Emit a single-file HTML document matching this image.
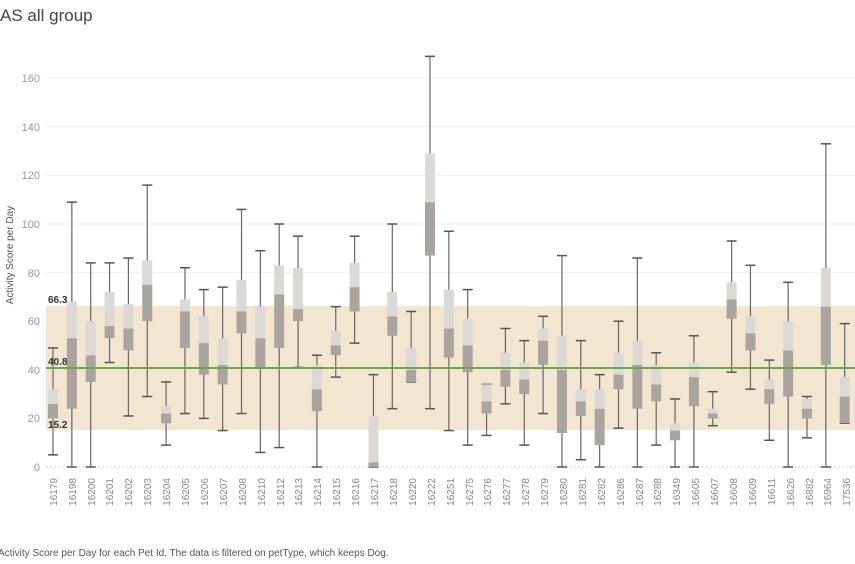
<!DOCTYPE html>
<html><head><meta charset="utf-8"><style>
body{margin:0;background:#fff;width:855px;height:559px;overflow:hidden;font-family:"Liberation Sans",sans-serif}
</style></head><body>
<svg id="s" width="855" height="559" xmlns="http://www.w3.org/2000/svg" font-family="Liberation Sans, sans-serif">
<text x="0" y="21" font-size="17" fill="#444">AS all group</text>
<g stroke="#f0f0f0" stroke-width="1">
<line x1="46" x2="855" y1="418.4" y2="418.4"/><line x1="46" x2="855" y1="369.8" y2="369.8"/>
<line x1="46" x2="855" y1="321.2" y2="321.2"/><line x1="46" x2="855" y1="272.6" y2="272.6"/>
<line x1="46" x2="855" y1="224" y2="224"/><line x1="46" x2="855" y1="175.4" y2="175.4"/>
<line x1="46" x2="855" y1="126.8" y2="126.8"/><line x1="46" x2="855" y1="78.2" y2="78.2"/>
</g>
<rect x="46" y="306" width="809" height="124" fill="#f2e6d0"/>
<g font-size="11" fill="#999" text-anchor="end">
<text x="40" y="471">0</text><text x="40" y="422">20</text><text x="40" y="374">40</text>
<text x="40" y="325">60</text><text x="40" y="277">80</text><text x="40" y="228">100</text>
<text x="40" y="179">120</text><text x="40" y="131">140</text><text x="40" y="82">160</text>
</g>
<text transform="translate(13,255) rotate(-90)" font-size="10" fill="#555" text-anchor="middle">Activity Score per Day</text>
<line x1="46" x2="855" y1="467" y2="467" stroke="#c8cde8" stroke-dasharray="2,2"/>
<g id="boxes"></g>
<line x1="46" x2="855" y1="368" y2="368" stroke="#6aa84f" stroke-width="2"/>
<g font-size="10" font-weight="bold" fill="#333">
<text x="48" y="303">66.3</text><text x="48" y="365">40.8</text><text x="48" y="428">15.2</text>
</g>
<g font-size="10" fill="#888" text-anchor="end" id="lbl">
<text transform="translate(57,478) rotate(-90)">16179</text>
<text transform="translate(76,478) rotate(-90)">16198</text>
<text transform="translate(95,478) rotate(-90)">16200</text>
<text transform="translate(113,478) rotate(-90)">16201</text>
<text transform="translate(132,478) rotate(-90)">16202</text>
<text transform="translate(151,478) rotate(-90)">16203</text>
<text transform="translate(170,478) rotate(-90)">16204</text>
<text transform="translate(189,478) rotate(-90)">16205</text>
<text transform="translate(208,478) rotate(-90)">16206</text>
<text transform="translate(227,478) rotate(-90)">16207</text>
<text transform="translate(246,478) rotate(-90)">16208</text>
<text transform="translate(265,478) rotate(-90)">16210</text>
<text transform="translate(284,478) rotate(-90)">16212</text>
<text transform="translate(302,478) rotate(-90)">16213</text>
<text transform="translate(321,478) rotate(-90)">16214</text>
<text transform="translate(340,478) rotate(-90)">16215</text>
<text transform="translate(359,478) rotate(-90)">16216</text>
<text transform="translate(378,478) rotate(-90)">16217</text>
<text transform="translate(397,478) rotate(-90)">16218</text>
<text transform="translate(416,478) rotate(-90)">16220</text>
<text transform="translate(435,478) rotate(-90)">16222</text>
<text transform="translate(454,478) rotate(-90)">16251</text>
<text transform="translate(473,478) rotate(-90)">16275</text>
<text transform="translate(491,478) rotate(-90)">16276</text>
<text transform="translate(510,478) rotate(-90)">16277</text>
<text transform="translate(529,478) rotate(-90)">16278</text>
<text transform="translate(548,478) rotate(-90)">16279</text>
<text transform="translate(567,478) rotate(-90)">16280</text>
<text transform="translate(586,478) rotate(-90)">16281</text>
<text transform="translate(605,478) rotate(-90)">16282</text>
<text transform="translate(624,478) rotate(-90)">16286</text>
<text transform="translate(643,478) rotate(-90)">16287</text>
<text transform="translate(661,478) rotate(-90)">16288</text>
<text transform="translate(680,478) rotate(-90)">16349</text>
<text transform="translate(699,478) rotate(-90)">16605</text>
<text transform="translate(718,478) rotate(-90)">16607</text>
<text transform="translate(737,478) rotate(-90)">16608</text>
<text transform="translate(756,478) rotate(-90)">16609</text>
<text transform="translate(775,478) rotate(-90)">16611</text>
<text transform="translate(794,478) rotate(-90)">16626</text>
<text transform="translate(813,478) rotate(-90)">16882</text>
<text transform="translate(831,478) rotate(-90)">16964</text>
<text transform="translate(850,478) rotate(-90)">17536</text>
</g>
<text x="-2" y="556" font-size="10" fill="#555">Activity Score per Day for each Pet Id. The data is filtered on petType, which keeps Dog.</text>
</svg>
<script>
var d=[[5,20,26,32,49],[0,24,53,68,109],[0,35,46,60,84],[43,53,58,72,84],[21,48,57,67,86],[29,60,75,85,116],[9,18,22,25,35],[22,49,64,69,82],[20,38,51,62,73],[15,34,42,53,74],[22,55,64,77,106],[6,41,53,66,89],[8,49,71,83,100],[41,60,65,82,95],[0,23,32,42,46],[37,46,50,56,66],[51,64,74,84,95],[0,0,2,21,38],[24,54,62,72,100],[35,35,40,49,64],[24,87,109,129,169],[15,45,57,73,97],[9,39,50,61,73],[13,22,27,34,34],[26,33,40,47,57],[9,30,36,43,52],[22,42,52,57,62],[0,14,40,54,87],[3,21,27,32,52],[0,9,24,32,38],[16,32,38,47,60],[0,24,42,52,86],[9,27,34,42,47],[0,11,15,18,28],[0,25,37,43,54],[17,20,22,24,31],[39,61,69,76,93],[32,48,55,62,83],[11,26,32,36,44],[0,29,48,60,76],[12,20,24,28,29],[0,42,66,82,133],[18,18,29,37,59]];
var Y=function(v){return 467-v*2.43},h='';
d.forEach(function(b,i){var x=53+i*18.85,w=10,l=x-w/2;
h+='<line x1="'+x+'" x2="'+x+'" y1="'+Y(b[0])+'" y2="'+Y(b[4])+'" stroke="#666" stroke-width="1.2"/>';
h+='<line x1="'+(l)+'" x2="'+(l+w)+'" y1="'+Y(b[0])+'" y2="'+Y(b[0])+'" stroke="#555" stroke-width="1.5"/>';
h+='<line x1="'+(l)+'" x2="'+(l+w)+'" y1="'+Y(b[4])+'" y2="'+Y(b[4])+'" stroke="#555" stroke-width="1.5"/>';
h+='<rect x="'+l+'" width="'+w+'" y="'+Y(b[2])+'" height="'+(Y(b[1])-Y(b[2]))+'" fill="#aaa49e"/>';
h+='<rect x="'+l+'" width="'+w+'" y="'+Y(b[3])+'" height="'+(Y(b[2])-Y(b[3]))+'" fill="#dcd9d5"/>';
});
document.getElementById('boxes').innerHTML=h;
</script>
</body></html>
